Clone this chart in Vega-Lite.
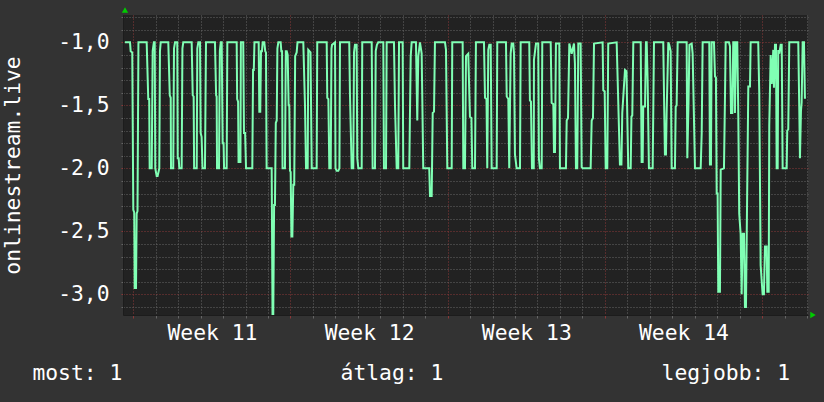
{
  "$schema": "https://vega.github.io/schema/vega-lite/v6.json",
  "width": 685,
  "height": 300,
  "autosize": {"type": "none"},
  "padding": {"left": 123, "top": 15, "right": 16, "bottom": 87},
  "background": "#333333",
  "title": {
    "text": "most: 1\u00a0\u00a0\u00a0\u00a0\u00a0\u00a0\u00a0\u00a0\u00a0\u00a0\u00a0\u00a0\u00a0\u00a0\u00a0\u00a0\u00a0átlag: 1\u00a0\u00a0\u00a0\u00a0\u00a0\u00a0\u00a0\u00a0\u00a0\u00a0\u00a0\u00a0\u00a0\u00a0\u00a0\u00a0\u00a0legjobb: 1",
    "orient": "bottom",
    "anchor": "middle",
    "frame": "bounds",
    "offset": 20,
    "dx": 2,
    "font": "DejaVu Sans Mono",
    "fontSize": 21.33,
    "fontWeight": "normal",
    "color": "#ffffff"
  },
  "config": {
    "view": {"fill": "#222222", "stroke": null},
    "font": "DejaVu Sans Mono",
    "axis": {"labelOverlap": false, "labelFlush": false, "labelBound": false}
  },
  "layer": [
    {
      "data": {"values": [
        {"h":-9,"v":-1.0},{"h":-3.5,"v":-1.0},{"h":-2.8,"v":-1.07},{"h":-1.1,"v":-1.08},{"h":0,"v":-2.33},{"h":1,"v":-2.35},{"h":1.5,"v":-2.95},{"h":2.9,"v":-2.95},{"h":3.6,"v":-2.36},{"h":4.5,"v":-2.34},{"h":5.5,"v":-1.0},{"h":14.3,"v":-1.0},{"h":16,"v":-1.45},{"h":17,"v":-1.45},{"h":17.5,"v":-2.0},{"h":19.7,"v":-2.0},{"h":20.7,"v":-1.07},{"h":22,"v":-1.0},{"h":22.9,"v":-1.0},{"h":23.5,"v":-2.0},{"h":25,"v":-2.06},{"h":26,"v":-2.06},{"h":27.8,"v":-2.0},{"h":28.5,"v":-1.07},{"h":29.3,"v":-1.0},{"h":37.4,"v":-1.0},{"h":39,"v":-1.42},{"h":40,"v":-1.44},{"h":40.3,"v":-2.0},{"h":42.7,"v":-2.0},{"h":43.5,"v":-1.05},{"h":44.6,"v":-1.0},{"h":47,"v":-1.0},{"h":47.5,"v":-1.92},{"h":48.5,"v":-1.92},{"h":49.2,"v":-2.0},{"h":51.7,"v":-2.0},{"h":52.5,"v":-1.05},{"h":53.4,"v":-1.0},{"h":62.4,"v":-1.0},{"h":63.5,"v":-1.42},{"h":64.5,"v":-1.43},{"h":65,"v":-2.0},{"h":67.8,"v":-2.0},{"h":68.4,"v":-1.05},{"h":69.5,"v":-1.0},{"h":71.3,"v":-1.0},{"h":72,"v":-1.72},{"h":73,"v":-1.75},{"h":74,"v":-2.0},{"h":76.6,"v":-2.0},{"h":77.7,"v":-1.0},{"h":87.3,"v":-1.0},{"h":88.5,"v":-1.42},{"h":89.1,"v":-1.43},{"h":89.5,"v":-2.0},{"h":91.6,"v":-2.0},{"h":92.5,"v":-1.07},{"h":93.5,"v":-1.0},{"h":94.5,"v":-1.0},{"h":95.5,"v":-1.8},{"h":96.5,"v":-1.8},{"h":97,"v":-2.0},{"h":99.8,"v":-2.0},{"h":100.5,"v":-1.0},{"h":110.5,"v":-1.0},{"h":111,"v":-1.45},{"h":112,"v":-1.47},{"h":112.5,"v":-1.95},{"h":114.5,"v":-1.95},{"h":115,"v":-1.0},{"h":117.5,"v":-1.0},{"h":118.3,"v":-1.72},{"h":119.5,"v":-1.72},{"h":120.5,"v":-2.0},{"h":127.2,"v":-2.0},{"h":128,"v":-1.22},{"h":128.8,"v":-1.22},{"h":129.5,"v":-1.0},{"h":134,"v":-1.0},{"h":134.7,"v":-1.55},{"h":135.7,"v":-1.55},{"h":136.5,"v":-1.07},{"h":137.5,"v":-1.07},{"h":138.3,"v":-1.0},{"h":140,"v":-1.0},{"h":141,"v":-1.07},{"h":141.8,"v":-1.08},{"h":142.5,"v":-2.0},{"h":147.9,"v":-2.0},{"h":148.8,"v":-3.16},{"h":149.6,"v":-3.16},{"h":150.5,"v":-2.29},{"h":151.4,"v":-2.29},{"h":152.3,"v":-1.64},{"h":153.3,"v":-1.62},{"h":154,"v":-1.05},{"h":155,"v":-1.0},{"h":157.5,"v":-1.0},{"h":158.2,"v":-1.07},{"h":159,"v":-1.07},{"h":159.5,"v":-2.0},{"h":162.1,"v":-2.0},{"h":163,"v":-1.07},{"h":164,"v":-1.07},{"h":165,"v":-1.1},{"h":166,"v":-1.5},{"h":166.7,"v":-1.5},{"h":167.5,"v":-2.02},{"h":168.2,"v":-2.03},{"h":169,"v":-2.54},{"h":170,"v":-2.54},{"h":171,"v":-2.13},{"h":172,"v":-2.13},{"h":173,"v":-1.11},{"h":174.6,"v":-1.08},{"h":175.5,"v":-1.0},{"h":178.2,"v":-1.0},
        {"h":181.7,"v":-1.0},{"h":183.5,"v":-1.5},{"h":184.6,"v":-2.0},{"h":186.4,"v":-2.0},{"h":187.0,"v":-1.06},{"h":189.4,"v":-1.08},{"h":190.7,"v":-2.0},{"h":196.0,"v":-2.0},{"h":196.6,"v":-1.0},{"h":206.7,"v":-1.0},{"h":207.3,"v":-1.44},{"h":208.5,"v":-1.45},{"h":209.5,"v":-2.0},{"h":211.0,"v":-2.0},{"h":211.8,"v":-1.05},{"h":212.4,"v":-1.02},{"h":215.6,"v":-1.0},{"h":216.1,"v":-2.0},{"h":217.4,"v":-2.02},{"h":219.1,"v":-2.02},{"h":220.3,"v":-2.0},{"h":220.9,"v":-1.0},{"h":230.8,"v":-1.0},{"h":231.6,"v":-1.42},{"h":233.4,"v":-2.0},{"h":235.1,"v":-2.0},{"h":235.9,"v":-1.08},{"h":236.9,"v":-1.02},{"h":238.7,"v":-1.02},{"h":239.4,"v":-1.92},{"h":240.5,"v":-2.0},{"h":244.1,"v":-2.0},{"h":244.7,"v":-1.0},{"h":254.8,"v":-1.0},{"h":255.8,"v":-2.0},{"h":258.3,"v":-2.0},{"h":259.1,"v":-1.07},{"h":260.4,"v":-1.02},{"h":261.8,"v":-1.0},{"h":267.2,"v":-1.0},{"h":267.9,"v":-2.0},{"h":270.1,"v":-2.0},{"h":270.8,"v":-1.0},{"h":278.6,"v":-1.0},{"h":279.7,"v":-1.5},{"h":281.5,"v":-2.0},{"h":283.2,"v":-2.0},{"h":284.0,"v":-1.0},{"h":287.9,"v":-1.0},{"h":288.5,"v":-2.0},{"h":295.0,"v":-2.0},{"h":295.7,"v":-1.56},{"h":296.5,"v":-1.11},{"h":297.5,"v":-1.0},{"h":302.1,"v":-1.0},{"h":303.5,"v":-1.62},{"h":304.6,"v":-1.11},{"h":306.4,"v":-1.0},{"h":308.2,"v":-1.09},{"h":309.9,"v":-2.0},{"h":316.3,"v":-2.0},{"h":317.1,"v":-2.22},{"h":318.9,"v":-2.22},{"h":320.0,"v":-1.56},{"h":321.4,"v":-1.55},{"h":322.4,"v":-1.0},{"h":333.1,"v":-1.0},{"h":334.2,"v":-1.06},{"h":335.6,"v":-2.0},{"h":340.3,"v":-2.0},{"h":340.9,"v":-1.0},{"h":352.0,"v":-1.0},{"h":352.7,"v":-2.0},{"h":354.5,"v":-2.0},{"h":355.6,"v":-1.11},{"h":358.0,"v":-1.09},{"h":359.8,"v":-1.59},{"h":361.4,"v":-1.6},{"h":362.3,"v":-2.0},{"h":365.2,"v":-2.0},{"h":366.2,"v":-1.0},{"h":374.8,"v":-1.0},{"h":375.9,"v":-1.44},{"h":377.5,"v":-1.45},{"h":378.3,"v":-2.0},{"h":379.4,"v":-1.06},{"h":380.5,"v":-1.02},{"h":382.0,"v":-1.02},{"h":383.0,"v":-2.0},{"h":388.4,"v":-2.0},{"h":389.0,"v":-1.0},{"h":398.3,"v":-1.0},{"h":399.1,"v":-1.43},{"h":400.8,"v":-1.45},{"h":401.8,"v":-2.0},{"h":403.3,"v":-1.09},{"h":404.4,"v":-1.01},{"h":406.1,"v":-1.01},{"h":406.9,"v":-1.09},{"h":407.9,"v":-1.89},{"h":409.7,"v":-2.0},{"h":413.3,"v":-2.0},{"h":414.0,"v":-1.0},{"h":423.2,"v":-1.0},{"h":423.9,"v":-1.46},{"h":425.0,"v":-1.47},{"h":426.1,"v":-2.0},{"h":428.0,"v":-2.0},{"h":428.2,"v":-1.14},{"h":430.4,"v":-1.01},{"h":432.8,"v":-1.01},{"h":433.5,"v":-1.92},{"h":434.6,"v":-2.0},{"h":436.5,"v":-2.0},{"h":437.1,"v":-1.0},{"h":446.1,"v":-1.0},{"h":447.1,"v":-1.48},{"h":448.9,"v":-1.49},{"h":449.6,"v":-1.87},{"h":450.7,"v":-1.87},{"h":451.7,"v":-1.01},{"h":455.3,"v":-1.01},{"h":456.0,"v":-2.0},{"h":462.4,"v":-2.0},{"h":463.2,"v":-1.62},{"h":464.6,"v":-1.6},{"h":466.0,"v":-1.01},{"h":468.5,"v":-1.09},{"h":471.0,"v":-1.01},{"h":472.0,"v":-1.17},{"h":473.1,"v":-2.0},{"h":474.5,"v":-2.0},{"h":475.6,"v":-1.01},{"h":478.1,"v":-1.01},{"h":479.2,"v":-1.99},{"h":480.3,"v":-2.0},{"h":488.8,"v":-2.0},{"h":489.9,"v":-1.62},{"h":491.3,"v":-1.6},{"h":492.4,"v":-1.01},{"h":501.6,"v":-1.0},{"h":502.3,"v":-1.38},{"h":503.8,"v":-1.39},{"h":504.9,"v":-2.0},{"h":506.6,"v":-2.0},{"h":507.6,"v":-1.01},{"h":516.6,"v":-1.0},{"h":520.1,"v":-1.97},{"h":521.7,"v":-1.97},{"h":522.6,"v":-1.56},{"h":525.5,"v":-1.22},{"h":527.1,"v":-1.23},{"h":529.0,"v":-2.0},{"h":531.6,"v":-2.0},{"h":532.4,"v":-1.59},{"h":533.3,"v":-1.58},{"h":534.4,"v":-1.0},
        {"h":542.3,"v":-1.0},{"h":543.3,"v":-1.95},{"h":544.4,"v":-1.95},{"h":545.0,"v":-1.51},{"h":546.9,"v":-1.51},{"h":547.9,"v":-1.0},{"h":548.7,"v":-1.0},{"h":549.7,"v":-1.3},{"h":551.1,"v":-2.0},{"h":555.1,"v":-2.0},{"h":556.5,"v":-1.0},{"h":566.4,"v":-1.0},{"h":567.5,"v":-1.56},{"h":568.2,"v":-1.89},{"h":569.3,"v":-1.89},{"h":570.0,"v":-1.56},{"h":571.8,"v":-1.0},{"h":572.8,"v":-1.02},{"h":574.3,"v":-1.07},{"h":575.4,"v":-2.0},{"h":578.9,"v":-2.0},{"h":579.7,"v":-1.51},{"h":580.7,"v":-1.5},{"h":581.8,"v":-1.0},{"h":591.4,"v":-1.0},{"h":592.1,"v":-1.92},{"h":593.4,"v":-1.48},{"h":594.4,"v":-1.02},{"h":596.8,"v":-1.01},{"h":597.8,"v":-1.09},{"h":599.5,"v":-1.7},{"h":600.3,"v":-2.0},{"h":606.4,"v":-2.0},{"h":607.5,"v":-1.72},{"h":608.5,"v":-1.0},{"h":615.6,"v":-1.0},{"h":616.3,"v":-1.97},{"h":617.4,"v":-1.97},{"h":618.1,"v":-1.0},{"h":620.6,"v":-1.0},{"h":621.7,"v":-1.27},{"h":622.7,"v":-1.28},{"h":623.5,"v":-2.2},{"h":624.5,"v":-2.2},{"h":625.2,"v":-2.98},{"h":627.0,"v":-2.98},{"h":627.8,"v":-2.01},{"h":631.3,"v":-2.0},{"h":632.4,"v":-1.42},{"h":633.1,"v":-1.0},{"h":636.6,"v":-1.0},{"h":637.7,"v":-1.03},{"h":638.8,"v":-1.56},{"h":640.2,"v":-1.56},{"h":641.2,"v":-1.0},{"h":642.3,"v":-1.0},{"h":643.0,"v":-1.56},{"h":644.1,"v":-1.0},{"h":645.5,"v":-1.0},{"h":646.6,"v":-1.58},{"h":647.6,"v":-2.36},{"h":649.1,"v":-2.52},{"h":650.2,"v":-3.0},{"h":651.3,"v":-2.52},{"h":652.7,"v":-2.52},{"h":653.7,"v":-3.1},{"h":654.8,"v":-3.1},{"h":657.3,"v":-1.35},{"h":659.1,"v":-1.35},{"h":659.8,"v":-1.0},{"h":667.9,"v":-1.0},{"h":669.0,"v":-1.4},{"h":670.5,"v":-2.77},{"h":672.6,"v":-3.0},{"h":674.0,"v":-3.0},{"h":675.1,"v":-2.62},{"h":676.9,"v":-2.62},{"h":677.6,"v":-2.98},{"h":679.1,"v":-2.98},{"h":679.7,"v":-1.66},{"h":681.2,"v":-1.1},{"h":682.3,"v":-1.33},{"h":684.0,"v":-1.06},{"h":684.7,"v":-1.36},{"h":685.8,"v":-1.02},{"h":686.9,"v":-1.02},{"h":687.6,"v":-2.0},{"h":688.7,"v":-2.0},{"h":689.3,"v":-1.06},{"h":690.4,"v":-1.09},{"h":691.9,"v":-1.02},{"h":693.0,"v":-1.02},{"h":694.0,"v":-2.0},{"h":698.3,"v":-2.0},{"h":698.9,"v":-1.7},{"h":700.0,"v":-1.69},{"h":701.1,"v":-1.0},{"h":710.7,"v":-1.0},{"h":711.8,"v":-1.54},{"h":712.5,"v":-1.92},{"h":713.6,"v":-1.54},{"h":714.3,"v":-1.48},{"h":715.4,"v":-1.0},{"h":716.8,"v":-1.0},{"h":717.8,"v":-1.44},{"h":718.9,"v":-1.44}
      ]},
      "mark": {"type": "line", "color": "#80ffb4", "strokeWidth": 2, "clip": true},
      "encoding": {
        "x": {
          "field": "h", "type": "quantitative",
          "scale": {"domain": [-11, 721.1], "nice": false, "zero": false},
          "axis": {
            "title": null,
            "values": [0,24,48,72,96,120,144,168,192,216,240,264,288,312,336,360,384,408,432,456,480,504,528,552,576,600,624,648,672,696,720,84,252,420,588],
            "labelExpr": "datum.value % 24 == 12 ? 'Week ' + (11 + floor(datum.value / 168)) : ''",
            "labelFont": "DejaVu Sans Mono", "labelFontSize": 21.33, "labelColor": "#ffffff",
            "labelPadding": 4, "labelOverlap": false, "labelFlush": false, "labelBound": false,
            "grid": true,
            "gridColor": {"condition": {"test": "datum.value % 168 == 0", "value": "#8a3838"}, "value": "#666666"},
            "gridOpacity": {"condition": {"test": "datum.value % 24 == 12", "value": 0}, "value": 1},
            "gridDash": [1, 2],
            "ticks": true, "tickSize": 3,
            "tickColor": {"condition": {"test": "datum.value % 168 == 0", "value": "#8a3838"}, "value": "#666666"},
            "tickOpacity": {"condition": {"test": "datum.value % 24 == 12", "value": 0}, "value": 1},
            "domain": true, "domainColor": "#1c1c1c"
          }
        },
        "y": {
          "field": "v", "type": "quantitative",
          "scale": {"domain": [-3.164, -0.783], "nice": false, "zero": false},
          "axis": {
            "title": "onlinestream.live",
            "titleFont": "DejaVu Sans Mono", "titleFontSize": 21.33, "titleFontWeight": "normal", "titleColor": "#ffffff",
            "titlePadding": 34,
            "values": [-3.1,-3.0,-2.9,-2.8,-2.7,-2.6,-2.5,-2.4,-2.3,-2.2,-2.1,-2.0,-1.9,-1.8,-1.7,-1.6,-1.5,-1.4,-1.3,-1.2,-1.1,-1.0,-0.9,-0.8],
            "labelExpr": "abs(datum.value * 2 - round(datum.value * 2)) < 0.001 ? '-' + replace(format(abs(datum.value), '.1f'), '.', ',') : ''",
            "labelFont": "DejaVu Sans Mono", "labelFontSize": 21.33, "labelColor": "#ffffff",
            "labelPadding": 12, "labelOverlap": false, "labelFlush": false, "labelBound": false,
            "grid": true,
            "gridColor": {"condition": {"test": "abs(datum.value * 2 - round(datum.value * 2)) < 0.001", "value": "#8a3838"}, "value": "#666666"},
            "gridDash": [1, 2],
            "ticks": true, "tickSize": 2,
            "tickColor": {"condition": {"test": "abs(datum.value * 2 - round(datum.value * 2)) < 0.001", "value": "#8a3838"}, "value": "#666666"},
            "domain": true, "domainColor": "#1c1c1c"
          }
        }
      }
    },
    {
      "data": {"values": [{}]},
      "mark": {"type": "point", "shape": "triangle-up", "filled": true, "color": "#00cc00", "opacity": 1, "size": 40, "xOffset": 2, "yOffset": -5, "clip": false},
      "encoding": {
        "x": {
          "datum": -11, "type": "quantitative",
          "scale": {"domain": [-11, 721.1], "nice": false, "zero": false},
          "axis": {
            "title": null,
            "values": [0,24,48,72,96,120,144,168,192,216,240,264,288,312,336,360,384,408,432,456,480,504,528,552,576,600,624,648,672,696,720,84,252,420,588],
            "labelExpr": "datum.value % 24 == 12 ? 'Week ' + (11 + floor(datum.value / 168)) : ''",
            "labelFont": "DejaVu Sans Mono", "labelFontSize": 21.33, "labelColor": "#ffffff",
            "labelPadding": 4, "labelOverlap": false, "labelFlush": false, "labelBound": false,
            "grid": true,
            "gridColor": {"condition": {"test": "datum.value % 168 == 0", "value": "#8a3838"}, "value": "#666666"},
            "gridOpacity": {"condition": {"test": "datum.value % 24 == 12", "value": 0}, "value": 1},
            "gridDash": [1, 2],
            "ticks": true, "tickSize": 3,
            "tickColor": {"condition": {"test": "datum.value % 168 == 0", "value": "#8a3838"}, "value": "#666666"},
            "tickOpacity": {"condition": {"test": "datum.value % 24 == 12", "value": 0}, "value": 1},
            "domain": true, "domainColor": "#1c1c1c"
          }
        },
        "y": {
          "datum": -0.783, "type": "quantitative",
          "scale": {"domain": [-3.164, -0.783], "nice": false, "zero": false},
          "axis": {
            "title": "onlinestream.live",
            "titleFont": "DejaVu Sans Mono", "titleFontSize": 21.33, "titleFontWeight": "normal", "titleColor": "#ffffff",
            "titlePadding": 34,
            "values": [-3.1,-3.0,-2.9,-2.8,-2.7,-2.6,-2.5,-2.4,-2.3,-2.2,-2.1,-2.0,-1.9,-1.8,-1.7,-1.6,-1.5,-1.4,-1.3,-1.2,-1.1,-1.0,-0.9,-0.8],
            "labelExpr": "abs(datum.value * 2 - round(datum.value * 2)) < 0.001 ? '-' + replace(format(abs(datum.value), '.1f'), '.', ',') : ''",
            "labelFont": "DejaVu Sans Mono", "labelFontSize": 21.33, "labelColor": "#ffffff",
            "labelPadding": 12, "labelOverlap": false, "labelFlush": false, "labelBound": false,
            "grid": true,
            "gridColor": {"condition": {"test": "abs(datum.value * 2 - round(datum.value * 2)) < 0.001", "value": "#8a3838"}, "value": "#666666"},
            "gridDash": [1, 2],
            "ticks": true, "tickSize": 2,
            "tickColor": {"condition": {"test": "abs(datum.value * 2 - round(datum.value * 2)) < 0.001", "value": "#8a3838"}, "value": "#666666"},
            "domain": true, "domainColor": "#1c1c1c"
          }
        }
      }
    },
    {
      "data": {"values": [{}]},
      "mark": {"type": "point", "shape": "triangle-right", "filled": true, "color": "#00cc00", "opacity": 1, "size": 40, "xOffset": 5, "clip": false},
      "encoding": {
        "x": {
          "datum": 721.1, "type": "quantitative",
          "scale": {"domain": [-11, 721.1], "nice": false, "zero": false},
          "axis": {
            "title": null,
            "values": [0,24,48,72,96,120,144,168,192,216,240,264,288,312,336,360,384,408,432,456,480,504,528,552,576,600,624,648,672,696,720,84,252,420,588],
            "labelExpr": "datum.value % 24 == 12 ? 'Week ' + (11 + floor(datum.value / 168)) : ''",
            "labelFont": "DejaVu Sans Mono", "labelFontSize": 21.33, "labelColor": "#ffffff",
            "labelPadding": 4, "labelOverlap": false, "labelFlush": false, "labelBound": false,
            "grid": true,
            "gridColor": {"condition": {"test": "datum.value % 168 == 0", "value": "#8a3838"}, "value": "#666666"},
            "gridOpacity": {"condition": {"test": "datum.value % 24 == 12", "value": 0}, "value": 1},
            "gridDash": [1, 2],
            "ticks": true, "tickSize": 3,
            "tickColor": {"condition": {"test": "datum.value % 168 == 0", "value": "#8a3838"}, "value": "#666666"},
            "tickOpacity": {"condition": {"test": "datum.value % 24 == 12", "value": 0}, "value": 1},
            "domain": true, "domainColor": "#1c1c1c"
          }
        },
        "y": {
          "datum": -3.164, "type": "quantitative",
          "scale": {"domain": [-3.164, -0.783], "nice": false, "zero": false},
          "axis": {
            "title": "onlinestream.live",
            "titleFont": "DejaVu Sans Mono", "titleFontSize": 21.33, "titleFontWeight": "normal", "titleColor": "#ffffff",
            "titlePadding": 34,
            "values": [-3.1,-3.0,-2.9,-2.8,-2.7,-2.6,-2.5,-2.4,-2.3,-2.2,-2.1,-2.0,-1.9,-1.8,-1.7,-1.6,-1.5,-1.4,-1.3,-1.2,-1.1,-1.0,-0.9,-0.8],
            "labelExpr": "abs(datum.value * 2 - round(datum.value * 2)) < 0.001 ? '-' + replace(format(abs(datum.value), '.1f'), '.', ',') : ''",
            "labelFont": "DejaVu Sans Mono", "labelFontSize": 21.33, "labelColor": "#ffffff",
            "labelPadding": 12, "labelOverlap": false, "labelFlush": false, "labelBound": false,
            "grid": true,
            "gridColor": {"condition": {"test": "abs(datum.value * 2 - round(datum.value * 2)) < 0.001", "value": "#8a3838"}, "value": "#666666"},
            "gridDash": [1, 2],
            "ticks": true, "tickSize": 2,
            "tickColor": {"condition": {"test": "abs(datum.value * 2 - round(datum.value * 2)) < 0.001", "value": "#8a3838"}, "value": "#666666"},
            "domain": true, "domainColor": "#1c1c1c"
          }
        }
      }
    }
  ]
}
